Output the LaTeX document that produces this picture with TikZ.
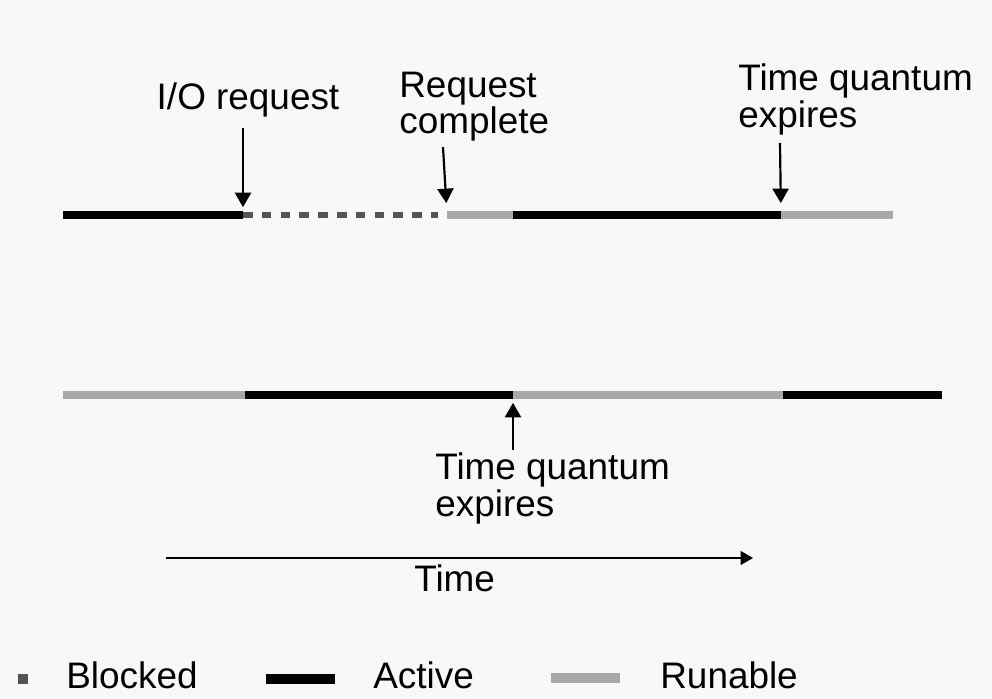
\documentclass[tikz,border=0pt]{standalone}
\usepackage{fontspec}
\setmainfont{Liberation Sans}
\usetikzlibrary{arrows}
\definecolor{paper}{RGB}{246,249,246}
\definecolor{runablegray}{RGB}{168,168,168}
\definecolor{blockedgray}{RGB}{85,85,85}

\begin{document}
\begin{tikzpicture}[x = 0.02cm, y = -0.02cm,
  active/.style = {line width = 4.2pt, black},
  runable/.style = {line width = 4.2pt, runablegray},
  blocked/.style = {line width = 3.6pt, blockedgray, dash pattern = on 5.5pt off 5.2pt},
  txt/.style = {font = \fontsize{21}{21.5}\selectfont, inner sep = 0pt, align = left},
  pointer/.style = {-triangle 60, line width = 1.25pt}]
\fill[paper] (0, 0) rectangle (992, 699);
\useasboundingbox (0, 0) rectangle (992, 699);

\coordinate (t0) at (63, 215);
\coordinate (t1) at (243, 215);
\coordinate (t2) at (438, 215);
\coordinate (t3) at (447, 215);
\coordinate (t4) at (513, 215);
\coordinate (t5) at (781, 215);
\coordinate (t6) at (893, 215);
\draw[active] (t0) -- (t1);
\draw[blocked] (t1) -- (t2);
\draw[runable] (t3) -- (t4);
\draw[active] (t4) -- (t5);
\draw[runable] (t5) -- (t6);

\coordinate (b0) at (63, 395);
\coordinate (b1) at (245, 395);
\coordinate (b2) at (513, 395);
\coordinate (b3) at (783, 395);
\coordinate (b4) at (942, 395);
\draw[runable] (b0) -- (b1);
\draw[active] (b1) -- (b2);
\draw[runable] (b2) -- (b3);
\draw[active] (b3) -- (b4);

\node[txt, anchor = base] (io) at (248, 110) {I/O request};
\coordinate (io-tail) at (243, 128);
\draw[pointer, shorten >= 4.5pt] (io-tail) -- (t1);

\node[txt, anchor = north west, font = \fontsize{21}{20.5}\selectfont] (done) at (399, 72) {Request\\complete};
\coordinate (done-tail) at (443, 147);
\draw[pointer, shorten >= 6.8pt] (done-tail) -- (t3);

\node[txt, anchor = north west] (expiry-top) at (738, 63) {Time quantum\\expires};
\coordinate (expiry-top-tail) at (780, 143);
\draw[pointer, shorten >= 6.8pt] (expiry-top-tail) -- (t5);

\node[txt, anchor = north west] (expiry-bottom) at (435, 452) {Time quantum\\expires};
\coordinate (expiry-bottom-tail) at (513, 450);
\draw[pointer, shorten >= 4.5pt] (expiry-bottom-tail) -- (b2);

\coordinate (time-start) at (166, 558);
\coordinate (time-end) at (753, 558);
\draw[pointer, line width = 0.9pt] (time-start) -- (time-end);
\node[txt, anchor = base west] (time) at (414, 592) {Time};

\node[fill = blockedgray, inner sep = 0pt, minimum size = 5.7pt] (key-blocked) at (23, 679) {};
\node[txt, anchor = base west] (blocked-text) at (66, 688) {Blocked};
\coordinate (key-a0) at (266, 679);
\coordinate (key-a1) at (335, 679);
\draw[active, line width = 6pt] (key-a0) -- (key-a1);
\node[txt, anchor = base west] (active-text) at (373, 688) {Active};
\coordinate (key-r0) at (551, 678);
\coordinate (key-r1) at (620, 678);
\draw[runable, line width = 6pt] (key-r0) -- (key-r1);
\node[txt, anchor = base west] (runable-text) at (660, 688) {Runable};
\end{tikzpicture}
\end{document}
